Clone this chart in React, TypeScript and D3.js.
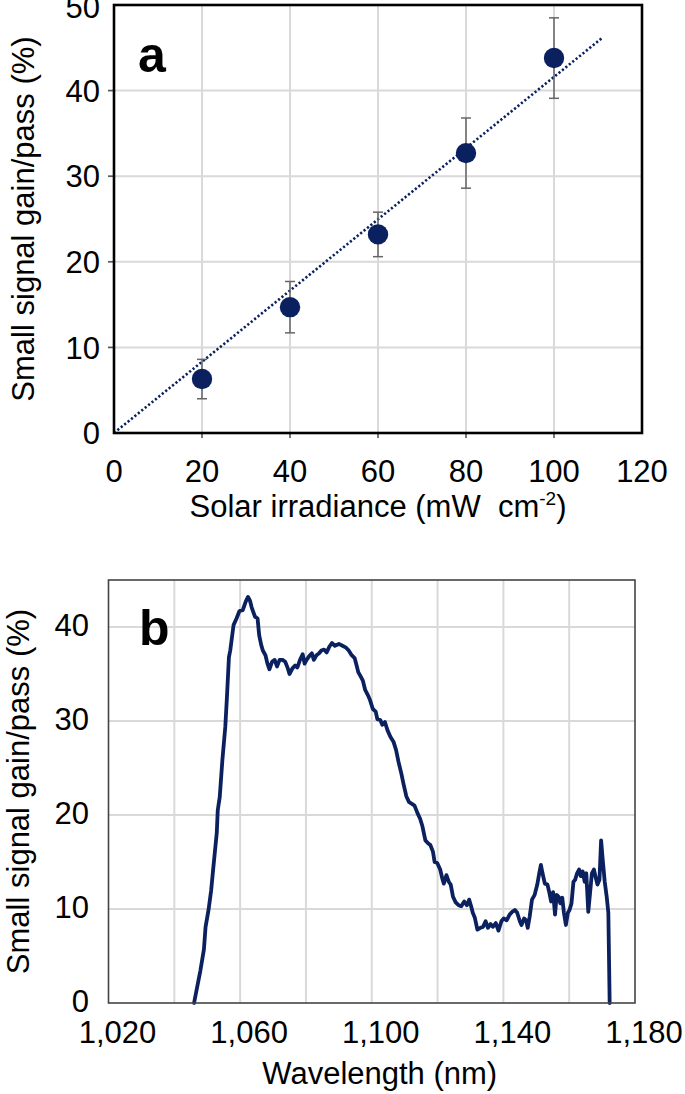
import React from 'react';
import * as d3 from 'd3';

// ---------- Panel a data ----------
const irradiance = [20, 40, 60, 80, 100];
const gainA = [6.3, 14.7, 23.2, 32.7, 43.8];
const errA = [2.3, 3.0, 2.6, 4.1, 4.7];
const trendSlope = 0.416;
const trendXMax = 110.8;
const xTicksA = [0, 20, 40, 60, 80, 100, 120];
const yTicksA = [0, 10, 20, 30, 40, 50];

// ---------- Panel b data ----------
const wavelength = [
  1046.0, 1047.0, 1047.9, 1049.0, 1049.5, 1050.4, 1051.2, 1051.8, 1052.9, 1053.2,
  1053.8, 1054.6, 1055.5, 1056.0, 1056.6, 1057.0, 1058.0, 1058.9, 1059.8, 1060.8,
  1061.7, 1062.4, 1063.0, 1063.5, 1064.5, 1065.3, 1065.8, 1066.4, 1066.9, 1067.7,
  1068.3, 1068.9, 1069.7, 1070.5, 1071.2, 1072.0, 1072.9, 1073.7, 1074.5, 1075.0,
  1075.9, 1076.7, 1077.4, 1078.2, 1079.0, 1079.6, 1080.2, 1081.0, 1081.8, 1082.4,
  1083.2, 1084.0, 1084.7, 1085.5, 1086.3, 1087.1, 1087.9, 1088.8, 1090.0, 1091.1,
  1092.2, 1093.0, 1093.9, 1094.8, 1095.4, 1095.9, 1096.7, 1097.3, 1098.0, 1098.9,
  1099.5, 1100.3, 1101.2, 1101.7, 1102.6, 1103.2, 1104.0, 1104.8, 1105.7, 1106.6,
  1107.4, 1108.1, 1109.0, 1109.6, 1110.5, 1111.3, 1112.1, 1113.0, 1113.9, 1114.7,
  1115.4, 1116.3, 1117.1, 1117.8, 1118.6, 1119.1, 1119.9, 1120.8, 1121.4, 1121.9,
  1122.7, 1123.4, 1124.0, 1124.7, 1125.5, 1126.4, 1127.2, 1128.1, 1128.9, 1129.6,
  1130.2, 1130.7, 1131.3, 1132.1, 1133.0, 1133.8, 1134.6, 1135.3, 1136.1, 1136.8,
  1137.7, 1138.5, 1139.4, 1140.1, 1141.0, 1141.9, 1142.7, 1143.5, 1144.2, 1145.0,
  1145.5, 1146.3, 1146.9, 1147.4, 1148.0, 1148.7, 1149.5, 1150.3, 1150.9, 1151.4,
  1151.9, 1152.6, 1153.4, 1154.0, 1154.5, 1155.1, 1155.7, 1156.2, 1156.8, 1157.3,
  1157.9, 1158.4, 1159.0, 1159.6, 1160.1, 1160.7, 1161.3, 1161.8, 1162.4, 1163.0,
  1163.5, 1164.1, 1164.7, 1165.2, 1165.8, 1166.4, 1166.9, 1167.5, 1168.1, 1168.6,
  1169.2, 1169.7, 1170.2, 1170.8, 1171.4, 1171.9, 1172.3,
];
const gainB = [
  0.0, 1.8, 3.4, 5.7, 8.1, 9.9, 12.0, 14.2, 18.1, 20.5,
  21.9, 25.8, 29.4, 32.6, 36.8, 37.5, 40.2, 40.9, 41.7, 41.8,
  42.7, 43.2, 42.8, 42.1, 41.1, 40.9, 39.1, 38.1, 37.5, 37.0,
  36.1, 35.5, 36.3, 36.5, 35.8, 36.5, 36.5, 36.3, 35.6, 35.0,
  35.6, 35.9, 35.7, 36.5, 37.1, 36.1, 36.5, 36.9, 37.2, 36.5,
  37.0, 37.2, 37.5, 37.6, 37.3, 37.9, 38.3, 38.0, 38.2, 38.0,
  37.8, 37.5, 37.0, 36.7, 35.9, 35.2, 34.7, 34.3, 33.3, 32.7,
  32.2, 31.3, 31.0, 30.2, 30.1, 29.6, 29.9, 29.0, 28.3, 27.8,
  26.9, 25.7, 24.4, 23.4, 22.0, 21.4, 21.2, 21.0, 20.2, 19.6,
  18.8, 17.3, 17.0, 16.8, 16.1, 15.0, 14.9, 14.2, 13.3, 12.7,
  13.6, 12.9, 12.6, 11.3, 10.7, 10.4, 10.3, 10.8, 10.4, 11.0,
  10.3, 9.6, 9.1, 7.8, 8.0, 8.1, 8.7, 8.0, 8.4, 8.1,
  8.5, 7.7, 8.7, 9.0, 8.8, 9.4, 9.7, 9.9, 9.6, 8.7,
  8.3, 9.0, 8.8, 8.0, 9.2, 11.0, 11.5, 12.6, 13.8, 14.7,
  13.8, 12.7, 12.6, 11.7, 10.8, 11.8, 9.4, 11.5, 11.3, 10.6,
  11.2, 9.6, 8.3, 9.6, 9.9, 10.6, 12.9, 13.1, 13.8, 14.2,
  13.5, 14.0, 12.9, 13.8, 9.7, 11.9, 13.8, 14.2, 13.3, 12.6,
  13.1, 17.3, 15.2, 12.9, 11.3, 9.6, 0.0,
];
const xTicksB = [1020, 1060, 1100, 1140, 1180];
const xGridB = [1040, 1060, 1080, 1100, 1120, 1140, 1160];
const yTicksB = [0, 10, 20, 30, 40];

const NAVY = '#0b215f';
const GRID = '#d9d9d9';
const FONT = '"Liberation Sans", Arial, Helvetica, sans-serif';

export default function App() {
  const xA = d3.scaleLinear().domain([0, 120]).range([114, 642]);
  const yA = d3.scaleLinear().domain([0, 50]).range([433, 5]);
  const xB = d3.scaleLinear().domain([1020, 1180]).range([108.5, 635]);
  const yB = d3.scaleLinear().domain([0, 45]).range([1003, 580]);

  const ptsB = wavelength.map((w, i) => [w, gainB[i]] as [number, number]);
  const lineB = d3
    .line<[number, number]>()
    .x((d) => xB(d[0]))
    .y((d) => yB(d[1]))(ptsB);

  const trend = d3
    .line<number>()
    .x((d) => xA(d))
    .y((d) => yA(d * trendSlope))([0, trendXMax]);

  const tickFont = 31;

  return (
    <svg
      width={685}
      height={1094}
      style={{ position: 'absolute', left: 0, top: 0, background: '#fff' }}
      fontFamily={FONT}
    >
      <rect x={0} y={0} width={685} height={1094} fill="#fff" />
      {/* ---------- Panel a ---------- */}
      <g>
        {xTicksA.slice(1, -1).map((t) => (
          <line key={'gxa' + t} x1={xA(t)} x2={xA(t)} y1={yA(50)} y2={yA(0) + 5} stroke={GRID} strokeWidth={2} />
        ))}
        {yTicksA.slice(1, -1).map((t) => (
          <line key={'gya' + t} x1={xA(0) - 6} x2={xA(120)} y1={yA(t)} y2={yA(t)} stroke={GRID} strokeWidth={2} />
        ))}
        {xTicksA.slice(1, -1).map((t) => (
          <line key={'txa' + t} x1={xA(t)} x2={xA(t)} y1={yA(0)} y2={yA(0) + 5} stroke="#555" strokeWidth={1.5} />
        ))}
        {yTicksA.slice(1, -1).map((t) => (
          <line key={'tya' + t} x1={xA(0) - 6} x2={xA(0)} y1={yA(t)} y2={yA(t)} stroke="#555" strokeWidth={1.5} />
        ))}
        <path d={trend || ''} fill="none" stroke={NAVY} strokeWidth={2.6} strokeDasharray="2.2,2.2" />
        {irradiance.map((x, i) => (
          <g key={'eb' + x}>
            <line x1={xA(x)} x2={xA(x)} y1={yA(gainA[i] - errA[i])} y2={yA(gainA[i] + errA[i])} stroke="#666" strokeWidth={1.5} />
            <line x1={xA(x) - 5} x2={xA(x) + 5} y1={yA(gainA[i] + errA[i])} y2={yA(gainA[i] + errA[i])} stroke="#666" strokeWidth={1.5} />
            <line x1={xA(x) - 5} x2={xA(x) + 5} y1={yA(gainA[i] - errA[i])} y2={yA(gainA[i] - errA[i])} stroke="#666" strokeWidth={1.5} />
          </g>
        ))}
        {irradiance.map((x, i) => (
          <circle key={'pt' + x} cx={xA(x)} cy={yA(gainA[i])} r={10.2} fill={NAVY} />
        ))}
        <rect x={xA(0)} y={yA(50)} width={xA(120) - xA(0)} height={yA(0) - yA(50)} fill="none" stroke="#000" strokeWidth={2.6} />
        {yTicksA.map((t) => (
          <text key={'lya' + t} x={xA(0) - 14} y={t === 50 ? yA(t) + 2 : yA(t)} dy="0.36em" textAnchor="end" fontSize={tickFont} fill="#000">
            {t}
          </text>
        ))}
        {xTicksA.map((t) => (
          <text key={'lxa' + t} x={xA(t)} y={482} textAnchor="middle" fontSize={tickFont} fill="#000">
            {t}
          </text>
        ))}
        <text x={(xA(0) + xA(120)) / 2} y={517} textAnchor="middle" fontSize={tickFont} fill="#000">
          {'Solar irradiance (mW\u00a0 cm'}
          <tspan fontSize={19} dy={-12}>-2</tspan>
          <tspan dy={12}>)</tspan>
        </text>
        <text
          transform={`translate(34, ${(yA(0) + yA(50)) / 2}) rotate(-90)`}
          textAnchor="middle"
          fontSize={tickFont}
          fill="#000"
        >
          Small signal gain/pass (%)
        </text>
        <text x={138} y={72} fontSize={50} fontWeight="bold" fill="#000">a</text>
      </g>

      {/* ---------- Panel b ---------- */}
      <g>
        {xGridB.map((t) => (
          <line key={'gxb' + t} x1={xB(t)} x2={xB(t)} y1={yB(45)} y2={yB(0)} stroke={GRID} strokeWidth={2} />
        ))}
        {yTicksB.slice(1).map((t) => (
          <line key={'gyb' + t} x1={xB(1020)} x2={xB(1180)} y1={yB(t)} y2={yB(t)} stroke={GRID} strokeWidth={2} />
        ))}
        <path d={lineB || ''} fill="none" stroke={NAVY} strokeWidth={3.8} strokeLinejoin="round" strokeLinecap="round" />
        <rect x={xB(1020)} y={yB(45)} width={xB(1180) - xB(1020)} height={yB(0) - yB(45)} fill="none" stroke="#444" strokeWidth={1.6} />
        {yTicksB.map((t) => (
          <text key={'lyb' + t} x={89} y={yB(t) - 2} dy="0.36em" textAnchor="end" fontSize={tickFont} fill="#000">
            {t}
          </text>
        ))}
        {xTicksB.map((t) => (
          <text key={'lxb' + t} x={xB(t) + 9} y={1043} textAnchor="middle" fontSize={tickFont} fill="#000">
            {d3.format(',')(t)}
          </text>
        ))}
        <text x={(xB(1020) + xB(1180)) / 2 + 8} y={1084} textAnchor="middle" fontSize={tickFont} fill="#000">
          Wavelength (nm)
        </text>
        <text
          transform={`translate(29, ${(yB(0) + yB(45)) / 2}) rotate(-90)`}
          textAnchor="middle"
          fontSize={tickFont}
          fill="#000"
        >
          Small signal gain/pass (%)
        </text>
        <text x={139} y={645} fontSize={50} fontWeight="bold" fill="#000">b</text>
      </g>
    </svg>
  );
}
